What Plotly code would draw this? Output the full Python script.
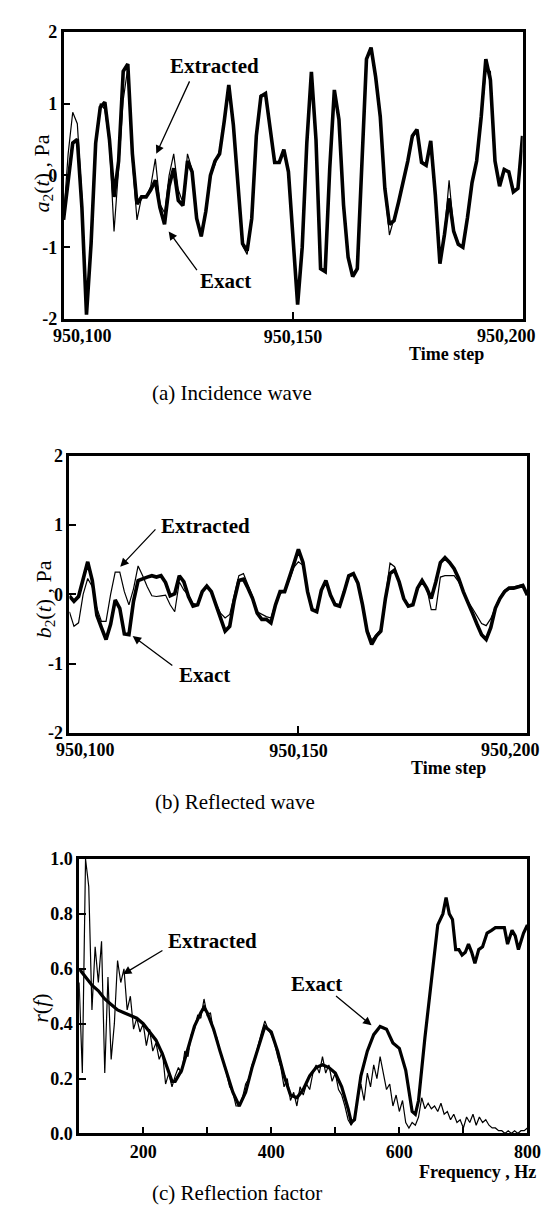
import plotly.graph_objects as go

W, H = 549, 1223

# ---------------- data ----------------
t_steps = list(range(950100, 950201))

a_exact = [-0.62, -0.05, 0.45, 0.50, -0.45, -1.94, -0.95, 0.45, 0.95, 1.02,
           0.50, -0.30, 0.20, 1.45, 1.55, 0.30, -0.40, -0.30, -0.30, -0.20,
           -0.07, -0.45, -0.68, -0.15, 0.10, -0.35, -0.42, 0.20, 0.05, -0.60,
           -0.85, -0.50, 0.00, 0.20, 0.30, 0.75, 1.26, 0.70, -0.10, -0.95,
           -1.05, -0.60, 0.55, 1.10, 1.14, 0.65, 0.18, 0.18, 0.36, 0.05,
           -0.90, -1.80, -1.00, 0.45, 1.44, 0.50, -1.30, -1.34, 0.10, 1.19,
           0.78, -0.41, -1.14, -1.41, -1.30, 0.14, 1.62, 1.78, 1.37, 0.82,
           -0.18, -0.68, -0.63, -0.37, -0.10, 0.20, 0.55, 0.64, 0.18, 0.14,
           0.48, -0.27, -1.23, -0.82, -0.32, -0.78, -0.96, -1.00, -0.59, -0.10,
           0.20, 0.82, 1.62, 1.33, 0.20, -0.15, 0.08, 0.05, -0.23, -0.18,
           0.55]

a_extracted = [-0.60, 0.30, 0.88, 0.72, -0.30, -1.90, -0.95, 0.50, 1.00, 0.92,
               0.45, -0.78, 0.10, 1.05, 1.50, 0.20, -0.62, -0.30, -0.30, -0.15,
               0.23, -0.40, -0.52, 0.00, 0.30, -0.20, -0.38, 0.30, 0.08, -0.58,
               -0.85, -0.50, 0.00, 0.15, 0.35, 0.75, 1.22, 0.68, -0.10, -0.98,
               -1.10, -0.60, 0.55, 1.12, 1.12, 0.62, 0.18, 0.20, 0.35, 0.05,
               -0.90, -1.78, -1.00, 0.45, 1.42, 0.50, -1.30, -1.32, 0.10, 1.17,
               0.78, -0.40, -1.12, -1.38, -1.28, 0.14, 1.60, 1.76, 1.37, 0.82,
               -0.20, -0.83, -0.60, -0.37, -0.10, 0.20, 0.52, 0.62, 0.20, 0.16,
               0.45, -0.27, -1.20, -0.80, -0.07, -0.75, -0.94, -1.00, -0.59, -0.10,
               0.20, 0.80, 1.45, 1.45, 0.20, -0.10, 0.10, 0.05, -0.20, -0.18,
               0.55]

b_exact = [-0.02, -0.10, -0.03, 0.23, 0.47, 0.20, -0.30, -0.48, -0.65, -0.43,
           -0.08, -0.20, -0.57, -0.58, -0.10, 0.20, 0.23, 0.25, 0.27, 0.25,
           0.27, 0.17, -0.02, 0.01, 0.27, 0.18, -0.03, -0.17, -0.15, 0.04,
           0.12, 0.04, -0.15, -0.36, -0.53, -0.46, -0.08, 0.20, 0.22, 0.09,
           -0.06, -0.27, -0.36, -0.36, -0.41, -0.15, 0.04, 0.04, 0.23, 0.44,
           0.65, 0.46, 0.04, -0.22, -0.25, 0.06, 0.20, -0.01, -0.15, -0.17,
           0.04, 0.27, 0.30, 0.16, -0.15, -0.53, -0.72, -0.60, -0.53, -0.06,
           0.30, 0.35, 0.18, -0.06, -0.17, -0.15, 0.09, 0.20, 0.09, -0.06,
           0.18, 0.46, 0.53, 0.46, 0.37, 0.23, 0.04, -0.13, -0.27, -0.43,
           -0.58, -0.65, -0.48, -0.20, -0.06, 0.04, 0.09, 0.09, 0.11, 0.13,
           -0.01]

b_extracted = [-0.25, -0.46, -0.41, 0.00, 0.23, 0.11, -0.20, -0.39, -0.39, 0.00,
               0.32, 0.32, 0.04, -0.15, 0.08, 0.41, 0.27, 0.11, -0.02, -0.03,
               -0.02, -0.01, -0.15, -0.25, 0.18, 0.06, -0.01, -0.13, -0.15, 0.06,
               0.12, 0.04, -0.13, -0.27, -0.34, -0.29, -0.01, 0.27, 0.30, 0.13,
               -0.03, -0.25, -0.29, -0.32, -0.34, -0.13, 0.01, 0.06, 0.20, 0.39,
               0.47, 0.42, 0.06, -0.20, -0.25, 0.05, 0.18, 0.00, -0.13, -0.15,
               0.05, 0.25, 0.28, 0.15, -0.12, -0.50, -0.66, -0.58, -0.50, -0.04,
               0.45, 0.40, 0.18, -0.05, -0.15, -0.14, 0.08, 0.20, 0.10, -0.22,
               -0.22, 0.25, 0.27, 0.27, 0.27, 0.18, 0.04, -0.10, -0.20, -0.32,
               -0.42, -0.45, -0.35, -0.18, -0.04, 0.06, 0.10, 0.11, 0.12, 0.14,
               0.00]

freq_exact = [100, 110, 120, 130, 140, 150, 160, 170, 180, 190,
              200, 210, 220, 230, 240, 245, 250, 260, 270, 280,
              290, 295, 300, 310, 320, 330, 340, 350, 360, 370,
              380, 390, 400, 410, 420, 430, 440, 450, 460, 470,
              480, 490, 500, 510, 520, 525, 530, 540, 550, 560,
              570, 580, 590, 600, 610, 620, 625, 630, 640, 650,
              660, 668, 673, 678, 683, 688, 693, 698, 703, 708,
              713, 718, 724, 730, 737, 744, 750, 757, 764, 769,
              776, 781, 786, 790, 794, 800]
r_exact = [0.60, 0.57, 0.54, 0.52, 0.49, 0.47, 0.45, 0.44, 0.43, 0.42,
           0.40, 0.37, 0.34, 0.29, 0.22, 0.19, 0.19, 0.23, 0.31, 0.39,
           0.44, 0.46, 0.44, 0.38, 0.30, 0.22, 0.15, 0.10, 0.15, 0.24,
           0.32, 0.39, 0.37, 0.30, 0.21, 0.14, 0.13, 0.16, 0.21, 0.24,
           0.25, 0.24, 0.22, 0.17, 0.09, 0.04, 0.05, 0.21, 0.30, 0.36,
           0.39, 0.38, 0.33, 0.31, 0.23, 0.08, 0.07, 0.12, 0.35, 0.56,
           0.76, 0.80, 0.86, 0.80, 0.78, 0.67, 0.67, 0.65, 0.66, 0.69,
           0.66, 0.62, 0.67, 0.68, 0.73, 0.74, 0.75, 0.75, 0.75, 0.69,
           0.74, 0.72, 0.67, 0.70, 0.73, 0.76]

freq_extracted = list(range(100, 805, 5))
r_extracted = [0.55, 0.22, 1.00, 0.90, 0.45, 0.68, 0.55, 0.70, 0.22, 0.57,
               0.27, 0.40, 0.63, 0.55, 0.60, 0.45, 0.50, 0.38, 0.42, 0.37,
               0.40, 0.32, 0.38, 0.30, 0.33, 0.27, 0.30, 0.18, 0.22, 0.17,
               0.21, 0.24, 0.22, 0.30, 0.28, 0.36, 0.38, 0.43, 0.42, 0.49,
               0.43, 0.44, 0.37, 0.35, 0.30, 0.26, 0.22, 0.17, 0.15, 0.10,
               0.10, 0.13, 0.18, 0.20, 0.25, 0.28, 0.33, 0.37, 0.41, 0.38,
               0.36, 0.33, 0.28, 0.24, 0.17, 0.20, 0.12, 0.15, 0.10, 0.17,
               0.14, 0.18, 0.16, 0.22, 0.25, 0.22, 0.28, 0.22, 0.25, 0.19,
               0.22, 0.16, 0.14, 0.10, 0.05, 0.03, 0.06, 0.13, 0.18, 0.12,
               0.22, 0.17, 0.25, 0.20, 0.28, 0.22, 0.16, 0.18, 0.10, 0.14,
               0.08, 0.12, 0.04, 0.02, 0.04, 0.03, 0.06, 0.13, 0.09, 0.11,
               0.09, 0.10, 0.08, 0.11, 0.07, 0.08, 0.05, 0.07, 0.04, 0.05,
               0.02, 0.06, 0.04, 0.07, 0.03, 0.06, 0.04, 0.05, 0.03, 0.02,
               0.02, 0.01, 0.01, 0.00, 0.01, 0.00, 0.01, 0.00, 0.01, 0.01,
               0.02]

a_yticks = [-2, -1, 0, 1, 2]
a_yticklabels = ["-2", "-1", "0", "1", "2"]
c_yticks = [0.0, 0.2, 0.4, 0.6, 0.8, 1.0]
c_yticklabels = ["0.0", "0.2", "0.4", "0.6", "0.8", "1.0"]
c_xticks = [200, 300, 400, 500, 600, 700, 800]
c_xticklabels = ["200", "", "400", "", "600", "", "800"]

# ---------------- layout helpers ----------------
SERIF = "Liberation Serif"


def px(x):
    return x / W


def py(y):
    return 1 - y / H


fig = go.Figure()

THICK = 3.6
THIN = 1.2

fig.add_trace(go.Scatter(x=t_steps, y=a_exact, mode="lines", line=dict(color="black", width=THICK),
                         xaxis="x", yaxis="y", name="Exact"))
fig.add_trace(go.Scatter(x=t_steps, y=a_extracted, mode="lines", line=dict(color="black", width=THIN),
                         xaxis="x", yaxis="y", name="Extracted"))
fig.add_trace(go.Scatter(x=t_steps, y=b_exact, mode="lines", line=dict(color="black", width=THICK),
                         xaxis="x2", yaxis="y2", name="Exact"))
fig.add_trace(go.Scatter(x=t_steps, y=b_extracted, mode="lines", line=dict(color="black", width=THIN),
                         xaxis="x2", yaxis="y2", name="Extracted"))
fig.add_trace(go.Scatter(x=freq_exact, y=r_exact, mode="lines", line=dict(color="black", width=3.2),
                         xaxis="x3", yaxis="y3", name="Exact"))
fig.add_trace(go.Scatter(x=freq_extracted, y=r_extracted, mode="lines", line=dict(color="black", width=THIN),
                         xaxis="x3", yaxis="y3", name="Extracted"))

tickfont = dict(family=SERIF, size=18, color="black")
axis_common = dict(showline=True, linecolor="black", linewidth=2.5, mirror=True,
                   ticks="inside", ticklen=7, tickwidth=2, tickcolor="black",
                   showgrid=False, zeroline=False, tickfont=tickfont, fixedrange=True)

bold = lambda s: "<b>%s</b>" % s if s else ""

fig.update_layout(
    width=W, height=H,
    margin=dict(l=0, r=0, t=0, b=0),
    paper_bgcolor="white", plot_bgcolor="white",
    showlegend=False,
    xaxis=dict(axis_common, domain=[px(57), px(528)], range=[950100, 950200], anchor="y",
               tickvals=[950150], ticktext=[bold("950,150")]),
    yaxis=dict(axis_common, domain=[py(306), py(14)], range=[-2, 2], anchor="x",
               tickvals=a_yticks, ticktext=[bold(s) for s in a_yticklabels]),
    xaxis2=dict(axis_common, domain=[px(63), px(533)], range=[950100, 950200], anchor="y2",
                tickvals=[950150], ticktext=[bold("950,150")]),
    yaxis2=dict(axis_common, domain=[py(727), py(445)], range=[-2, 2], anchor="x2",
                tickvals=a_yticks, ticktext=[bold(s) for s in a_yticklabels]),
    xaxis3=dict(axis_common, domain=[px(73), px(533)], range=[100, 800], anchor="y3",
                tickvals=c_xticks, ticktext=[bold(s) for s in c_xticklabels]),
    yaxis3=dict(axis_common, domain=[py(1134), py(855)], range=[0, 1.0], anchor="x3",
                tickvals=c_yticks, ticktext=[bold(s) for s in c_yticklabels]),
)

ann = []
lab_font = dict(family=SERIF, size=18, color="black")
title_font = dict(family=SERIF, size=21, color="black")
ytitle_font = dict(family=SERIF, size=22, color="black")

# end tick labels for time axes
for (xc, yc, s) in [(76, 323, "950,100"), (512, 323, "950,200"),
                    (80, 744, "950,100"), (516, 744, "950,200")]:
    ann.append(dict(x=px(xc), y=py(yc), xref="paper", yref="paper", text=bold(s),
                    showarrow=False, font=lab_font, xanchor="center", yanchor="middle"))

# axis titles
ann.append(dict(x=px(450), y=py(342), xref="paper", yref="paper", text=bold("Time step"),
                showarrow=False, font=lab_font, xanchor="center", yanchor="middle"))
ann.append(dict(x=px(452), y=py(762), xref="paper", yref="paper", text=bold("Time step"),
                showarrow=False, font=lab_font, xanchor="center", yanchor="middle"))
ann.append(dict(x=px(482), y=py(1173), xref="paper", yref="paper", text=bold("Frequency , Hz"),
                showarrow=False, font=lab_font, xanchor="center", yanchor="middle"))

ann.append(dict(x=px(36), y=py(158), xref="paper", yref="paper", textangle=-90,
                text="<i>a</i><sub>2</sub>(<i>t</i>) , Pa", showarrow=False, font=ytitle_font,
                xanchor="center", yanchor="middle"))
ann.append(dict(x=px(38), y=py(591), xref="paper", yref="paper", textangle=-90,
                text="<i>b</i><sub>2</sub>(<i>t</i>) , Pa", showarrow=False, font=ytitle_font,
                xanchor="center", yanchor="middle"))
ann.append(dict(x=px(33), y=py(1007), xref="paper", yref="paper", textangle=-90,
                text="<i>r</i>(<i>f</i>)", showarrow=False, font=ytitle_font,
                xanchor="center", yanchor="middle"))

# panel captions
ann.append(dict(x=px(230), y=py(381), xref="paper", yref="paper", text="(a) Incidence wave",
                showarrow=False, font=title_font, xanchor="center", yanchor="middle"))
ann.append(dict(x=px(233), y=py(797), xref="paper", yref="paper", text="(b) Reflected wave",
                showarrow=False, font=title_font, xanchor="center", yanchor="middle"))
ann.append(dict(x=px(235), y=py(1195), xref="paper", yref="paper", text="(c) Reflection factor",
                showarrow=False, font=title_font, xanchor="center", yanchor="middle"))

# in-plot labels and arrows
label_font = dict(family=SERIF, size=21, color="black")


def label(xr, yr, x, y, s):
    ann.append(dict(x=x, y=y, xref=xr, yref=yr, text=bold(s), showarrow=False,
                    font=label_font, xanchor="center", yanchor="middle"))


def arrow(xr, yr, x0, y0, x1, y1):
    ann.append(dict(x=x1, y=y1, ax=x0, ay=y0, xref=xr, yref=yr, axref=xr, ayref=yr,
                    text="", showarrow=True, arrowhead=2, arrowsize=1.3, arrowwidth=1.3,
                    arrowcolor="black", standoff=0, startstandoff=0))


label("x", "y", 950132.9, 1.53, "Extracted")
arrow("x", "y", 950127.6, 1.33, 950120.2, 0.30)
label("x", "y", 950135.2, -1.47, "Exact")
arrow("x", "y", 950129.3, -1.34, 950122.9, -0.78)

label("x2", "y2", 950129.8, 0.99, "Extracted")
arrow("x2", "y2", 950119.1, 0.96, 950111.1, 0.40)
label("x2", "y2", 950129.4, -1.16, "Exact")
arrow("x2", "y2", 950122.8, -1.04, 950113.8, -0.60)

label("x3", "y3", 308.5, 0.70, "Extracted")
arrow("x3", "y3", 232.4, 0.67, 168.5, 0.58)
label("x3", "y3", 471, 0.545, "Exact")
arrow("x3", "y3", 498.8, 0.505, 556.6, 0.394)

fig.update_layout(annotations=ann)

fig.write_html("out.html")
